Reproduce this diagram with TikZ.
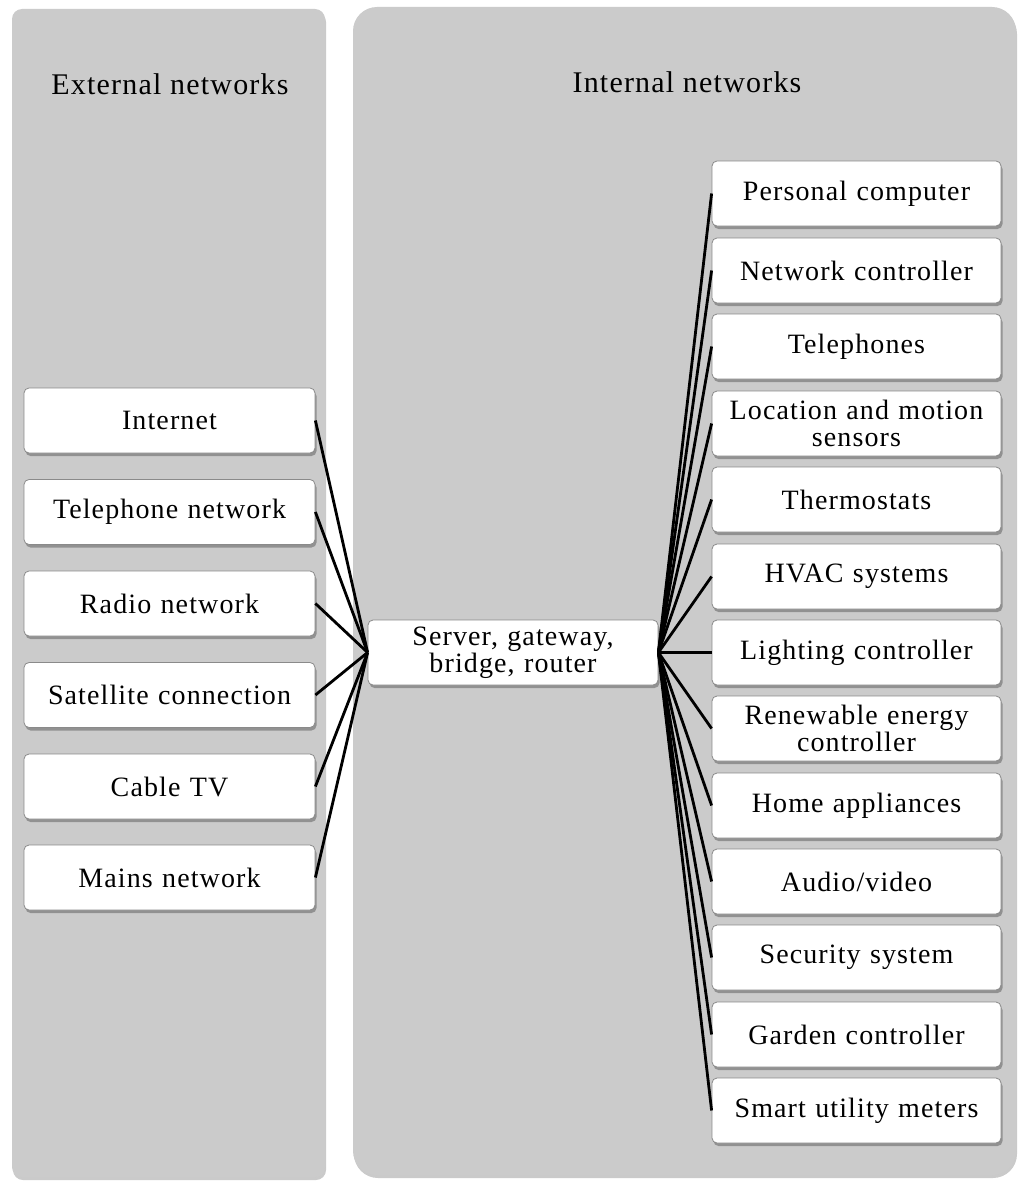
\documentclass[tikz,border=0pt]{standalone}
\usepackage{fontspec}
\setmainfont{Liberation Serif}[LetterSpace=4]
\usetikzlibrary{shadows}
\definecolor{panelgray}{HTML}{CBCBCB}
\definecolor{boxline}{HTML}{8A8A8A}
\begin{document}
\begin{tikzpicture}[x=1pt,y=-1pt,
  panel/.style={fill=panelgray, draw=none, drop shadow={shadow xshift=1pt, shadow yshift=-3pt, opacity=0.35, fill=black!60}},
  itembox/.style={draw=boxline, line width=0.8pt, fill=white, rounded corners=5pt,
    minimum height=65pt, text width=280pt, align=center, inner sep=0pt,
    font=\fontsize{28}{27}\selectfont,
    drop shadow={shadow xshift=1.5pt, shadow yshift=-3pt, opacity=0.45, fill=black!70}},
  leftbox/.style={itembox, minimum width=291pt},
  rightbox/.style={itembox, minimum width=289pt},
  titletext/.style={font=\fontsize{30}{30}\selectfont},
  link/.style={line width=2.8pt, black}
]
\useasboundingbox (0,0) rectangle (1024,1188);
% panels
\fill[panel, rounded corners=10pt] (12,9) rectangle (325,1177);
\fill[panel, rounded corners=24pt] (353,7) rectangle (1016,1175);
\node[titletext] (extt) at (170,84) {External networks};
\node[titletext] (intt) at (687,82) {Internal networks};
% left boxes
\node[leftbox] (l1) at (169.5,420.5) {Internet};
\node[leftbox] (l2) at (169.5,512) {Telephone network};
\node[leftbox] (l3) at (169.5,603.5) {Radio network};
\node[leftbox] (l4) at (169.5,695) {Satellite connection};
\node[leftbox] (l5) at (169.5,786.5) {Cable TV};
\node[leftbox] (l6) at (169.5,877.5) {Mains network};
% center
\node[itembox, minimum width=290pt] (c) at (513,652.5) {Server, gateway,\\bridge, router};
% right boxes
\node[rightbox] (r1) at (856.5,193.5) {Personal computer};
\node[rightbox] (r2) at (856.5,270.5) {Network controller};
\node[rightbox] (r3) at (856.5,346.5) {Telephones};
\node[rightbox] (r4) at (856.5,423.5) {Location and motion\\sensors};
\node[rightbox] (r5) at (856.5,499.5) {Thermostats};
\node[rightbox] (r6) at (856.5,576.5) {HVAC systems};
\node[rightbox] (r7) at (856.5,652.5) {Lighting controller};
\node[rightbox] (r8) at (856.5,728.5) {Renewable energy\\controller};
\node[rightbox] (r9) at (856.5,805.5) {Home appliances};
\node[rightbox] (r10) at (856.5,881.5) {Audio/video};
\node[rightbox] (r11) at (856.5,957.5) {Security system};
\node[rightbox] (r12) at (856.5,1034.5) {Garden controller};
\node[rightbox] (r13) at (856.5,1110.5) {Smart utility meters};
% links
\foreach \i in {1,...,6} {\draw[link] (l\i.east) -- (c.west);}
\foreach \i in {1,...,13} {\draw[link] (c.east) -- (r\i.west);}
\end{tikzpicture}
\end{document}
